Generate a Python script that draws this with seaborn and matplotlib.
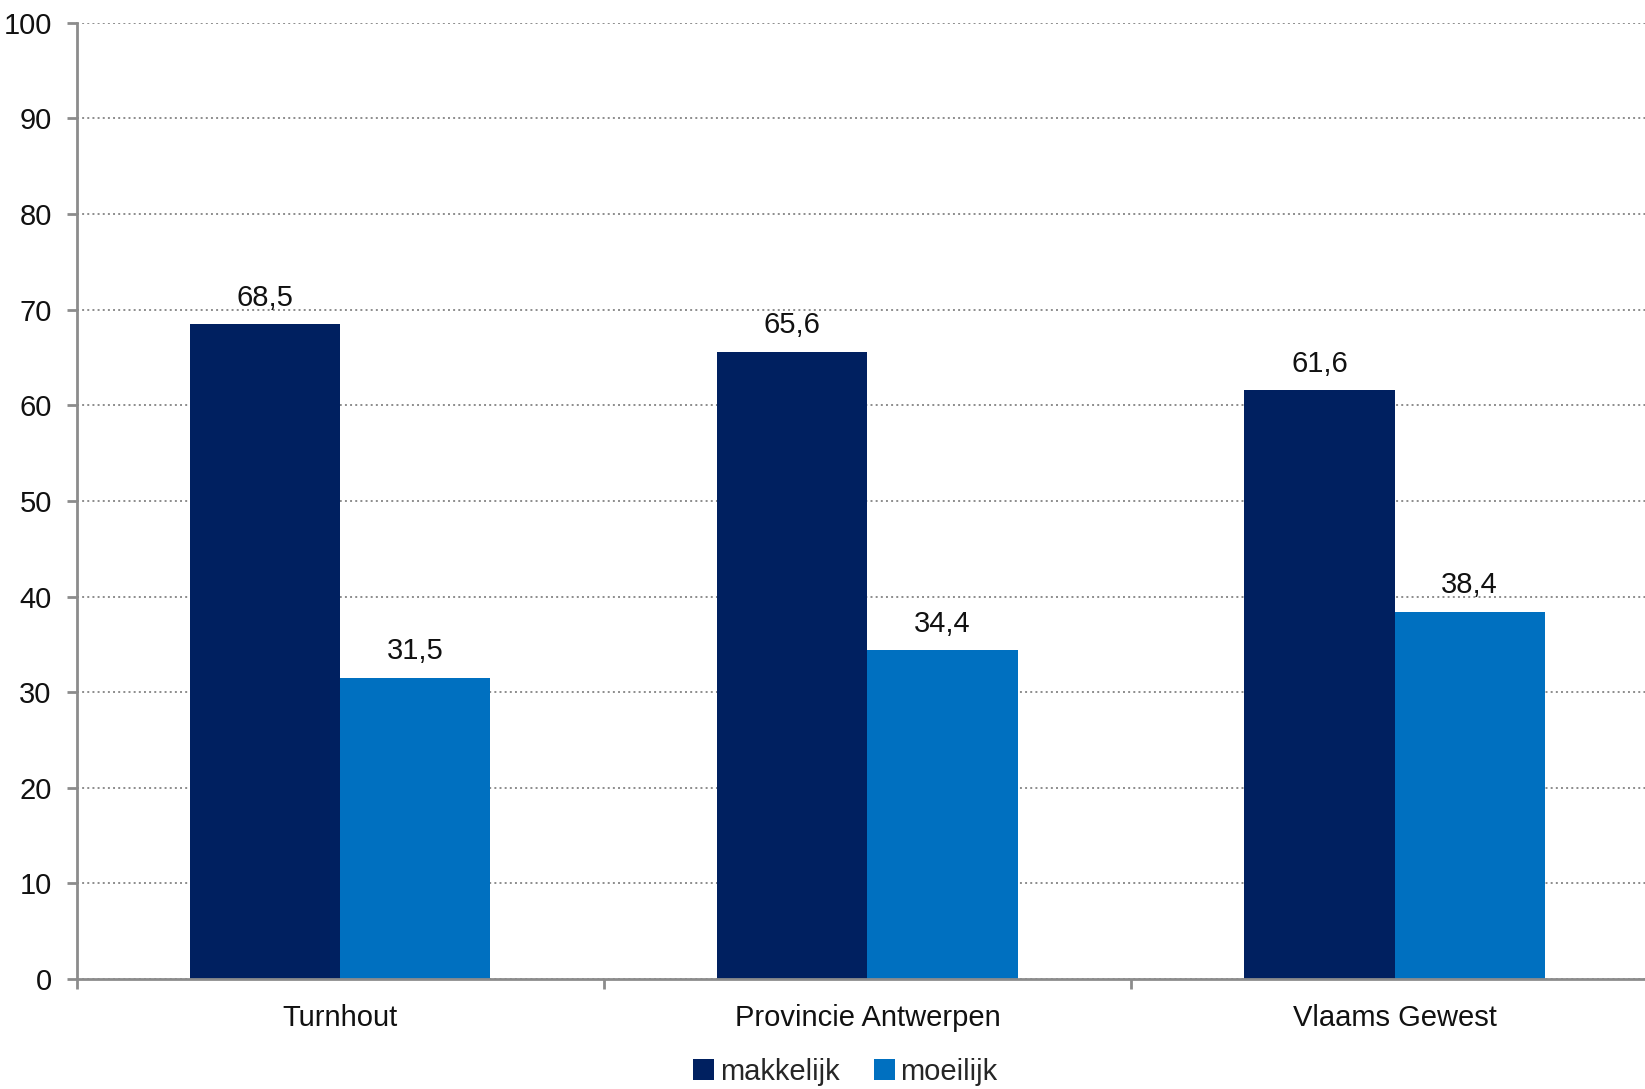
from matplotlib import pyplot as plt
from matplotlib.ticker import FixedLocator
import pandas as pd
import seaborn as sns

# data
regios = ["Turnhout", "Provincie Antwerpen", "Vlaams Gewest"]
makkelijk = [68.5, 65.6, 61.6]
moeilijk = [31.5, 34.4, 38.4]
reeksen = ["makkelijk", "moeilijk"]
kleuren = ["#002060", "#0070C0"]

df = pd.DataFrame({
    "regio": regios * 2,
    "type": [reeksen[0]] * 3 + [reeksen[1]] * 3,
    "pct": makkelijk + moeilijk,
})

sns.set_theme(style="white")
plt.rcParams["font.family"] = ["Liberation Sans Narrow", "Liberation Sans", "DejaVu Sans"]
plt.rcParams["font.size"] = 21

fig = plt.figure(figsize=(16.45, 10.89), dpi=100)
ax = fig.add_axes([0.0466, 0.101, 0.9614, 0.878])

sns.barplot(data=df, x="regio", y="pct", hue="type", order=regios,
            hue_order=reeksen, palette=kleuren, width=0.57, gap=0,
            saturation=1, linewidth=0, ax=ax)

# value labels with comma decimals
for cont, vals in zip(ax.containers, [makkelijk, moeilijk]):
    ax.bar_label(cont, labels=[f"{v:.1f}".replace(".", ",") for v in vals],
                 padding=9, fontsize=21, color="#111111")

ax.set_ylim(0, 100)
ax.set_xlim(-0.5, 2.5)
ax.set_yticks(range(0, 101, 10))
ax.set(xlabel="", ylabel="")

# grid
ax.yaxis.grid(True, linestyle=":", color="#8c8c8c", linewidth=1.4)
ax.xaxis.grid(False)
ax.set_axisbelow(True)

# spines
for s in ["top", "right"]:
    ax.spines[s].set_visible(False)
for s in ["left", "bottom"]:
    ax.spines[s].set_color("#8c8c8c")
    ax.spines[s].set_linewidth(2)

ax.tick_params(axis="y", which="major", left=True, length=7, width=2,
               color="#8c8c8c", pad=11, labelsize=21, labelcolor="#111111")
ax.tick_params(axis="x", which="major", bottom=False, length=0, pad=18,
               labelsize=21, labelcolor="#111111")
ax.xaxis.set_minor_locator(FixedLocator([-0.5, 0.5, 1.5, 2.5]))
ax.tick_params(axis="x", which="minor", bottom=True, length=7, width=2,
               color="#8c8c8c")

# legend under the chart
handles, labels = ax.get_legend_handles_labels()
ax.get_legend().remove()
fig.legend(handles, labels, loc="center", bbox_to_anchor=(0.514, 0.016),
           ncol=2, frameon=False, fontsize=21, handlelength=0.7,
           handleheight=0.7, handletextpad=0.2, columnspacing=1.2,
           borderaxespad=0)

fig.savefig("out.png", dpi=100)
